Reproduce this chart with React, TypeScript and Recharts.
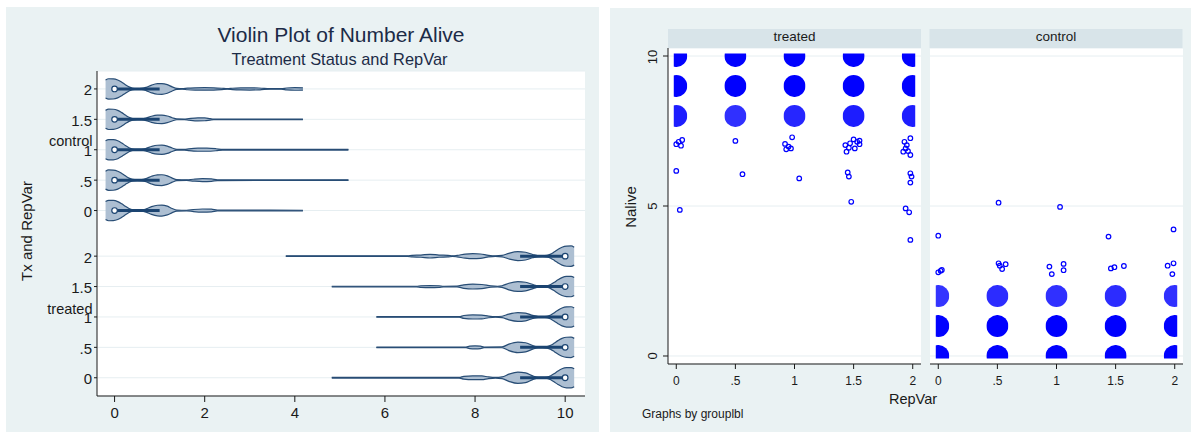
import React from "react";
import {
  Area,
  CartesianGrid,
  ComposedChart,
  ReferenceLine,
  Scatter,
  ScatterChart,
  XAxis,
  YAxis,
} from "recharts";

const FONT = '"Liberation Sans", Arial, Helvetica, sans-serif';
const PANEL_BG = "#eaf2f3";
const STRIP_BG = "#d8e4e9";
const GRID = "#e6eef1";
const AXIS = "#1a1a1a";
const TEXT = "#1a1a1a";
const TITLE = "#1c2b47";
const VIOLIN_FILL = "#adbfd2";
const VIOLIN_LINE = "#284d75";
const BOX = "#1b4471";
const MARKER = "#0000ff";

// ---------- violin plot (left) ----------
const groups = ["treated", "control"];
const repLabels = ["0", ".5", "1", "1.5", "2"];
const rowPositions = [0, 1, 2, 3, 4, 5.5, 6.5, 7.5, 8.5, 9.5];
const rowLabels = [...repLabels, ...repLabels];
const groupLabelRows = [2, 7.5];
const nAliveTicks = [0, 2, 4, 6, 8, 10];

// outlines: [Nalive, relative density]
const controlZeroBulb = [
  [-0.2, 0.88], [-0.13, 1], [-0.03, 0.99], [0.07, 0.88], [0.16, 0.66],
  [0.24, 0.42], [0.32, 0.2], [0.4, 0.07], [0.5, 0.03],
];
const treatedTenBulb = [
  [9.5, 0.03], [9.6, 0.07], [9.68, 0.2], [9.76, 0.42], [9.84, 0.66],
  [9.93, 0.88], [10.03, 0.99], [10.13, 1], [10.2, 0.88],
];
const control2Tail = [
  [0.6, 0.05], [0.7, 0.16], [0.82, 0.38], [0.95, 0.52], [1.05, 0.53], [1.17, 0.42],
  [1.28, 0.2], [1.38, 0.05], [1.5, 0.03], [1.62, 0.08], [1.8, 0.11], [2.0, 0.12],
  [2.2, 0.11], [2.38, 0.07], [2.5, 0.03], [2.62, 0.07], [2.8, 0.1], [3.0, 0.11],
  [3.2, 0.09], [3.32, 0.05], [3.45, 0.03], [3.7, 0.03], [3.82, 0.09], [4.0, 0.13],
  [4.18, 0.11],
];
const control15Tail = [
  [0.6, 0.04], [0.7, 0.12], [0.82, 0.3], [0.95, 0.41], [1.05, 0.42], [1.17, 0.33],
  [1.28, 0.16], [1.38, 0.04], [1.55, 0.03], [1.65, 0.08], [1.85, 0.15], [2.0, 0.14],
  [2.12, 0.07], [2.2, 0.03], [4.18, 0.03],
];
const control1Tail = [
  [0.6, 0.04], [0.7, 0.13], [0.82, 0.32], [0.95, 0.44], [1.05, 0.45], [1.17, 0.36],
  [1.28, 0.17], [1.38, 0.04], [1.55, 0.03], [1.65, 0.09], [1.85, 0.15], [2.05, 0.15],
  [2.25, 0.1], [2.4, 0.03], [5.19, 0.03],
];
const control05Tail = [
  [0.6, 0.05], [0.7, 0.16], [0.82, 0.38], [0.95, 0.52], [1.05, 0.53], [1.17, 0.42],
  [1.28, 0.2], [1.38, 0.05], [1.6, 0.03], [1.75, 0.09], [1.95, 0.14], [2.15, 0.12],
  [2.28, 0.04], [5.19, 0.03],
];
const control0Tail = [
  [0.6, 0.05], [0.7, 0.16], [0.82, 0.38], [0.95, 0.52], [1.05, 0.54], [1.17, 0.43],
  [1.28, 0.2], [1.38, 0.05], [1.6, 0.03], [1.75, 0.1], [1.95, 0.15], [2.15, 0.13],
  [2.28, 0.04], [4.18, 0.03],
];
const treated2Tail = [
  [3.8, 0.03], [6.5, 0.03], [6.6, 0.08], [6.8, 0.11], [7.0, 0.18], [7.2, 0.11],
  [7.4, 0.08], [7.5, 0.03], [7.6, 0.07], [7.78, 0.2], [7.95, 0.25], [8.12, 0.21],
  [8.3, 0.08], [8.45, 0.03], [8.6, 0.07], [8.75, 0.28], [8.95, 0.44], [9.12, 0.38],
  [9.28, 0.16], [9.4, 0.04],
];
const treated15Tail = [
  [4.82, 0.03], [6.7, 0.03], [6.8, 0.08], [7.0, 0.1], [7.2, 0.08], [7.3, 0.03],
  [7.6, 0.04], [7.75, 0.17], [7.95, 0.24], [8.15, 0.2], [8.35, 0.07], [8.5, 0.03],
  [8.6, 0.08], [8.75, 0.32], [8.95, 0.48], [9.12, 0.42], [9.3, 0.18], [9.42, 0.04],
];
const treated1Tail = [
  [5.81, 0.03], [7.65, 0.03], [7.75, 0.14], [7.95, 0.2], [8.15, 0.18], [8.3, 0.08],
  [8.45, 0.03], [8.6, 0.07], [8.75, 0.28], [8.95, 0.43], [9.12, 0.38], [9.28, 0.15],
  [9.4, 0.04],
];
const treated05Tail = [
  [5.81, 0.03], [7.8, 0.03], [7.88, 0.12], [8.0, 0.15], [8.12, 0.12], [8.2, 0.03],
  [8.6, 0.04], [8.75, 0.32], [8.95, 0.52], [9.12, 0.45], [9.28, 0.18], [9.4, 0.04],
];
const treated0Tail = [
  [4.82, 0.03], [7.65, 0.03], [7.75, 0.14], [7.95, 0.19], [8.15, 0.18], [8.3, 0.08],
  [8.45, 0.03], [8.6, 0.08], [8.75, 0.35], [8.95, 0.56], [9.12, 0.48], [9.28, 0.18],
  [9.4, 0.04],
];

// same order as rowPositions
const violinOutlines = [
  [...treated0Tail, ...treatedTenBulb],
  [...treated05Tail, ...treatedTenBulb],
  [...treated1Tail, ...treatedTenBulb],
  [...treated15Tail, ...treatedTenBulb],
  [...treated2Tail, ...treatedTenBulb],
  [...controlZeroBulb, ...control0Tail],
  [...controlZeroBulb, ...control05Tail],
  [...controlZeroBulb, ...control1Tail],
  [...controlZeroBulb, ...control15Tail],
  [...controlZeroBulb, ...control2Tail],
];
const boxQ1 = [9, 9, 9, 9, 9, 0, 0, 0, 0, 0];
const boxQ3 = [10, 10, 10, 10, 10, 1, 1, 1, 1, 1];
const medians = [10, 10, 10, 10, 10, 0, 0, 0, 0, 0];

const VIOLIN_HALF = 0.335; // half width of the widest bulb, in row units

const violinTables = violinOutlines.map((outline, i) =>
  outline.map(([x, d]) => ({
    x,
    band: [rowPositions[i] - d * VIOLIN_HALF, rowPositions[i] + d * VIOLIN_HALF],
  }))
);
const medianPoints = rowPositions.map((y, i) => ({ x: medians[i], y }));

function RowTick(props: any) {
  const { x, y, payload } = props;
  const i = rowPositions.indexOf(payload.value);
  const g = groupLabelRows.indexOf(payload.value);
  return (
    <g fontFamily={FONT} fill={TEXT}>
      <text x={x} y={y + 6.5} textAnchor="end" fontSize={15}>
        {rowLabels[i]}
      </text>
      {g >= 0 ? (
        <text x={x + 0.5} y={y - 3.3} textAnchor="end" fontSize={14.5}>
          {groups[g]}
        </text>
      ) : null}
    </g>
  );
}

function MedianDot(props: any) {
  const { cx, cy } = props;
  if (cx == null || cy == null) return null;
  return <circle cx={cx} cy={cy} r={2.8} fill="#ffffff" stroke={BOX} strokeWidth={1.2} />;
}

function ViolinPanel() {
  return (
    <div style={{ position: "absolute", left: 6, top: 7 }}>
      <ComposedChart width={593} height={425} margin={{ top: 64, right: 14, bottom: 6, left: 0 }}>
        <CartesianGrid vertical={false} stroke={GRID} fill="#ffffff" />
        <XAxis
          type="number"
          dataKey="x"
          domain={[-0.39, 10.44]}
          ticks={nAliveTicks}
          allowDataOverflow
          height={30}
          stroke={AXIS}
          tickSize={6}
          tickMargin={5}
          tick={{ fontSize: 15, fill: TEXT, fontFamily: FONT }}
        />
        <YAxis
          type="number"
          dataKey="y"
          domain={[-0.6, 10.09]}
          ticks={rowPositions}
          allowDataOverflow
          width={91}
          stroke={AXIS}
          tickSize={3}
          tickMargin={2}
          tick={RowTick}
        />
        {violinTables.map((table, i) => (
          <Area
            key={`violin-${i}`}
            data={table}
            dataKey="band"
            type="monotone"
            fill={VIOLIN_FILL}
            fillOpacity={1}
            stroke={VIOLIN_LINE}
            strokeWidth={1.2}
            dot={false}
            activeDot={false}
            isAnimationActive={false}
          />
        ))}
        {rowPositions.map((pos, i) => (
          <ReferenceLine
            key={`box-${i}`}
            segment={[
              { x: boxQ1[i], y: pos },
              { x: boxQ3[i], y: pos },
            ]}
            stroke={BOX}
            strokeWidth={3}
          />
        ))}
        <Scatter data={medianPoints} shape={MedianDot} isAnimationActive={false} />
      </ComposedChart>
    </div>
  );
}

// ---------- jittered scatter by group (right) ----------
const repVar = [0, 0.5, 1, 1.5, 2];
const aliveTicks = [0, 5, 10];
const REP_MIN = 0;
const REP_MAX = 2;
const ALIVE_MIN = 0;
const ALIVE_MAX = 10;

// number of overlapping markers in each dense cluster, per RepVar value
const treatedAt10 = [60, 70, 70, 70, 60];
const treatedAt9 = [60, 75, 75, 70, 60];
const treatedAt8 = [26, 20, 23, 26, 26];
const controlAt0 = [60, 70, 70, 70, 60];
const controlAt1 = [60, 75, 75, 75, 60];
const controlAt2 = [19, 21, 20, 21, 20];

// isolated jittered markers [RepVar, Nalive]
const treatedPoints = [
  [0.0, 7.06], [0.02, 7.14], [0.04, 7.01], [0.05, 7.2], [0.0, 6.17], [0.03, 4.87],
  [0.5, 7.17], [0.56, 6.06],
  [0.98, 7.29], [0.92, 7.07], [0.95, 6.98], [0.97, 6.92], [0.93, 6.89], [1.04, 5.92],
  [1.5, 7.22], [1.53, 7.14], [1.55, 7.06], [1.43, 7.03], [1.46, 6.94], [1.47, 7.09],
  [1.51, 6.92], [1.44, 6.81], [1.55, 7.18], [1.45, 6.12], [1.46, 5.98], [1.48, 5.14],
  [1.93, 7.14], [1.95, 7.03], [1.98, 7.26], [1.94, 6.92], [1.96, 6.83], [1.98, 6.7],
  [1.92, 6.81], [1.98, 6.09], [1.99, 5.98], [1.98, 5.78], [1.94, 4.92], [1.97, 4.79],
  [1.98, 3.87],
];
const controlPoints = [
  [0.0, 4.01], [0.0, 2.79], [0.02, 2.84], [0.03, 2.87],
  [0.51, 5.11], [0.51, 3.09], [0.52, 3.01], [0.57, 3.06], [0.54, 2.9],
  [1.03, 4.97], [0.94, 2.98], [0.96, 2.73], [1.06, 3.07], [1.06, 2.86],
  [1.44, 3.98], [1.46, 2.92], [1.49, 2.96], [1.57, 3.0],
  [1.99, 4.22], [1.94, 3.01], [1.99, 3.09], [1.98, 2.73],
];

const clusterRows = (y: number, counts: number[]) =>
  repVar.map((x, i) => ({ x, y, n: counts[i] }));

const treatedClusters = [
  ...clusterRows(10, treatedAt10),
  ...clusterRows(9, treatedAt9),
  ...clusterRows(8, treatedAt8),
];
const controlClusters = [
  ...clusterRows(0, controlAt0),
  ...clusterRows(1, controlAt1),
  ...clusterRows(2, controlAt2),
];
const toPoints = (list: number[][]) => list.map(([x, y]) => ({ x, y }));

const BLOB_R = 11;
const EDGE = 2.5;

const makeBlob = (prefix: string) => (props: any) => {
  const { cx, cy, payload } = props;
  if (cx == null || cy == null) return null;
  // jitter is clipped to the data range, so edge clusters are cut
  const x0 = payload.x <= REP_MIN ? cx - EDGE : cx - BLOB_R;
  const x1 = payload.x >= REP_MAX ? cx + EDGE : cx + BLOB_R;
  const y0 = payload.y >= ALIVE_MAX ? cy - EDGE : cy - BLOB_R;
  const y1 = payload.y <= ALIVE_MIN ? cy + EDGE : cy + BLOB_R;
  const id = `${prefix}-${payload.x}-${payload.y}`.replace(/\./g, "_");
  const cover = 1 - Math.exp(-payload.n / 12);
  return (
    <g>
      <defs>
        <clipPath id={id}>
          <rect x={x0} y={y0} width={x1 - x0} height={y1 - y0} />
        </clipPath>
      </defs>
      <circle cx={cx} cy={cy} r={BLOB_R} fill={MARKER} fillOpacity={cover} clipPath={`url(#${id})`} />
    </g>
  );
};

function Ring(props: any) {
  const { cx, cy } = props;
  if (cx == null || cy == null) return null;
  return <circle cx={cx} cy={cy} r={2.3} fill="none" stroke={MARKER} strokeWidth={1.2} />;
}

function RotatedTick(props: any) {
  const { x, y, payload } = props;
  return (
    <text
      x={x}
      y={y}
      transform={`rotate(-90 ${x} ${y})`}
      textAnchor="middle"
      fontSize={13}
      fontFamily={FONT}
      fill={TEXT}
    >
      {payload.value}
    </text>
  );
}

function Facet(props: {
  name: string;
  left: number;
  width: number;
  showY: boolean;
  clusters: any[];
  points: any[];
}) {
  const { name, left, width, showY, clusters, points } = props;
  return (
    <div style={{ position: "absolute", left, top: 48 }}>
      <ScatterChart width={width} height={346} margin={{ top: 0, right: 0, bottom: 0, left: 0 }}>
        <CartesianGrid vertical={false} stroke={GRID} fill="#ffffff" />
        <XAxis
          type="number"
          dataKey="x"
          domain={[-0.07, 2.07]}
          ticks={repVar}
          tickFormatter={(v: number) => repLabels[repVar.indexOf(v)]}
          allowDataOverflow
          height={30}
          stroke={AXIS}
          tickSize={5}
          tickMargin={7.5}
          tick={{ fontSize: 12, fill: TEXT, fontFamily: FONT }}
        />
        <YAxis
          type="number"
          dataKey="y"
          domain={[-0.267, 10.267]}
          ticks={aliveTicks}
          allowDataOverflow
          hide={!showY}
          width={showY ? 58 : 0}
          stroke={AXIS}
          tickSize={5}
          tickMargin={6}
          tick={RotatedTick}
        />
        <Scatter data={clusters} shape={makeBlob(name)} isAnimationActive={false} />
        <Scatter data={points} shape={Ring} isAnimationActive={false} />
      </ScatterChart>
    </div>
  );
}

export default function App() {
  return (
    <div
      style={{
        position: "absolute",
        left: 0,
        top: 0,
        width: 1191,
        height: 433,
        background: "#ffffff",
        overflow: "hidden",
        fontFamily: FONT,
      }}
    >
      <div style={{ position: "absolute", left: 6, top: 7, width: 593, height: 425, background: PANEL_BG }} />
      <div style={{ position: "absolute", left: 610, top: 8, width: 581, height: 424, background: PANEL_BG }} />
      <ViolinPanel />
      <Facet
        name="treated"
        left={610}
        width={311}
        showY
        clusters={treatedClusters}
        points={toPoints(treatedPoints)}
      />
      <Facet
        name="control"
        left={929.5}
        width={253}
        showY={false}
        clusters={controlClusters}
        points={toPoints(controlPoints)}
      />
      <svg
        width={1191}
        height={433}
        style={{ position: "absolute", left: 0, top: 0, pointerEvents: "none" }}
        fontFamily={FONT}
      >
        <text x={341} y={41.5} textAnchor="middle" fontSize={21} fill={TITLE}>
          Violin Plot of Number Alive
        </text>
        <text x={339.5} y={65} textAnchor="middle" fontSize={16.4} fill={TITLE}>
          Treatment Status and RepVar
        </text>
        <text transform="translate(32 231) rotate(-90)" textAnchor="middle" fontSize={15} fill={TEXT}>
          Tx and RepVar
        </text>
        <rect x={668} y={29} width={253} height={19} fill={STRIP_BG} />
        <text x={794.5} y={41} textAnchor="middle" fontSize={13.5} fill={TEXT}>
          treated
        </text>
        <rect x={929.5} y={29} width={253} height={19} fill={STRIP_BG} />
        <text x={1056} y={41} textAnchor="middle" fontSize={13.5} fill={TEXT}>
          control
        </text>
        <text transform="translate(636 207) rotate(-90)" textAnchor="middle" fontSize={15} fill={TEXT}>
          Nalive
        </text>
        <text x={913} y={403.5} textAnchor="middle" fontSize={14.5} fill={TEXT}>
          RepVar
        </text>
        <text x={642} y={418} fontSize={12} fill={TEXT}>
          Graphs by grouplbl
        </text>
      </svg>
    </div>
  );
}
